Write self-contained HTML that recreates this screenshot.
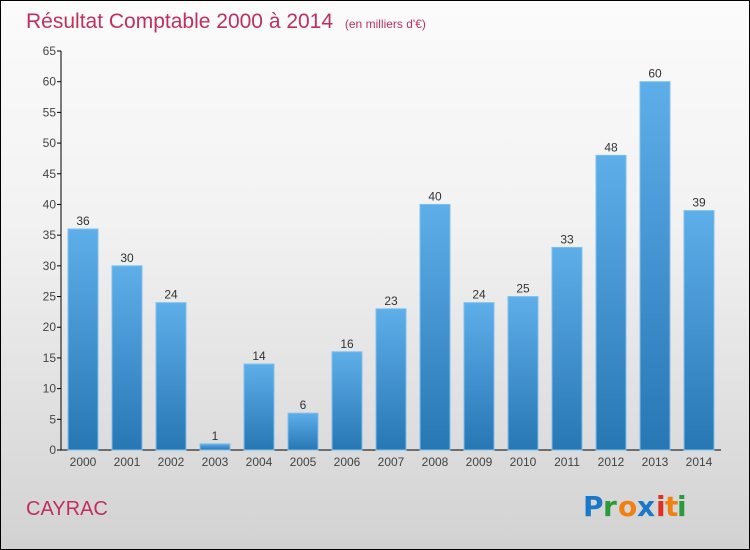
<!DOCTYPE html>
<html><head><meta charset="utf-8"><style>
body{margin:0}
#wrap{position:relative;width:748px;height:548px;border:1px solid #000;background:linear-gradient(#fbfbfb,#f2f2f2 40%,#d2d2d2);font-family:"Liberation Sans",sans-serif;overflow:hidden}
</style></head><body>
<div id="wrap">
<svg id="chart" width="748" height="548">
<defs><linearGradient id="bg" x1="0" y1="0" x2="0" y2="1"><stop offset="0" stop-color="#5eaeea"/><stop offset="1" stop-color="#2877b5"/></linearGradient></defs>
<text x="25" y="27" font-size="21" fill="#c0305e">Résultat Comptable 2000 à 2014 <tspan font-size="12" dx="6">(en milliers d'€)</tspan></text>
<text x="25" y="514" font-size="20" fill="#c0305e">CAYRAC</text>
<g font-size="28" font-family="DejaVu Sans, sans-serif" font-weight="bold">
<text x="582" y="515" fill="#1a78c8">P</text><text x="602" y="515" fill="#2a9a3a">r</text><text x="617" y="515" fill="#f08010">o</text><text x="636" y="515" fill="#1a78c8">x</text><text x="655" y="515" fill="#e03020">i</text><text x="664" y="515" fill="#f08010">t</text><text x="676" y="515" fill="#2a9a3a">i</text></g>
<g id="axes"></g><g id="bars"></g>
</svg></div>
<script>
const years=["2000","2001","2002","2003","2004","2005","2006","2007","2008","2009","2010","2011","2012","2013","2014"];
const values=[36,30,24,1,14,6,16,23,40,24,25,33,48,60,39];
const yTicks=[0,5,10,15,20,25,30,35,40,45,50,55,60,65];
const ns="http://www.w3.org/2000/svg";
const x0=60,x1=720,y0=449,yTop=50,yMax=65;
const y=v=>y0-(y0-yTop)*v/yMax;
const step=(x1-x0)/years.length;
const xc=i=>x0+step*(i+0.5);
function mk(t,a,p){const e=document.createElementNS(ns,t);for(const k in a)e.setAttribute(k,a[k]);p.appendChild(e);return e;}
const ax=document.getElementById('axes'),bs=document.getElementById('bars');
let l=mk('line',{x1:x0,y1:yTop,x2:x0,y2:y0,stroke:'#000'},ax);


l=mk('line',{x1:x0,y1:y0,x2:x1,y2:y0,stroke:'#000'},ax);


yTicks.forEach(v=>{
 const t=mk('line',{x1:x0-4,x2:x0,y1:y(v),y2:y(v),stroke:'#000'},ax);
 
 
 const tx=mk('text',{x:x0-5,y:y(v)+4,'font-size':12,fill:'#444','text-anchor':'end'},ax);
 tx.textContent=v;
 
 
});
years.forEach((yr,i)=>{
 const v=values[i],w=30;
 const r=mk('rect',{x:xc(i)-w/2,y:y(v),width:w,height:y0-y(v),fill:'url(#bg)',stroke:'#7cc0f0','stroke-width':1},bs);
 
 
 const t=mk('text',{x:xc(i),y:y(v)-4,'font-size':12,fill:'#333','text-anchor':'middle'},bs);
 t.textContent=v;
 
 
 const xl=mk('text',{x:xc(i),y:y0+16,'font-size':12,fill:'#444','text-anchor':'middle'},ax);
 xl.textContent=yr;
 
 
});
</script>
</body></html>
